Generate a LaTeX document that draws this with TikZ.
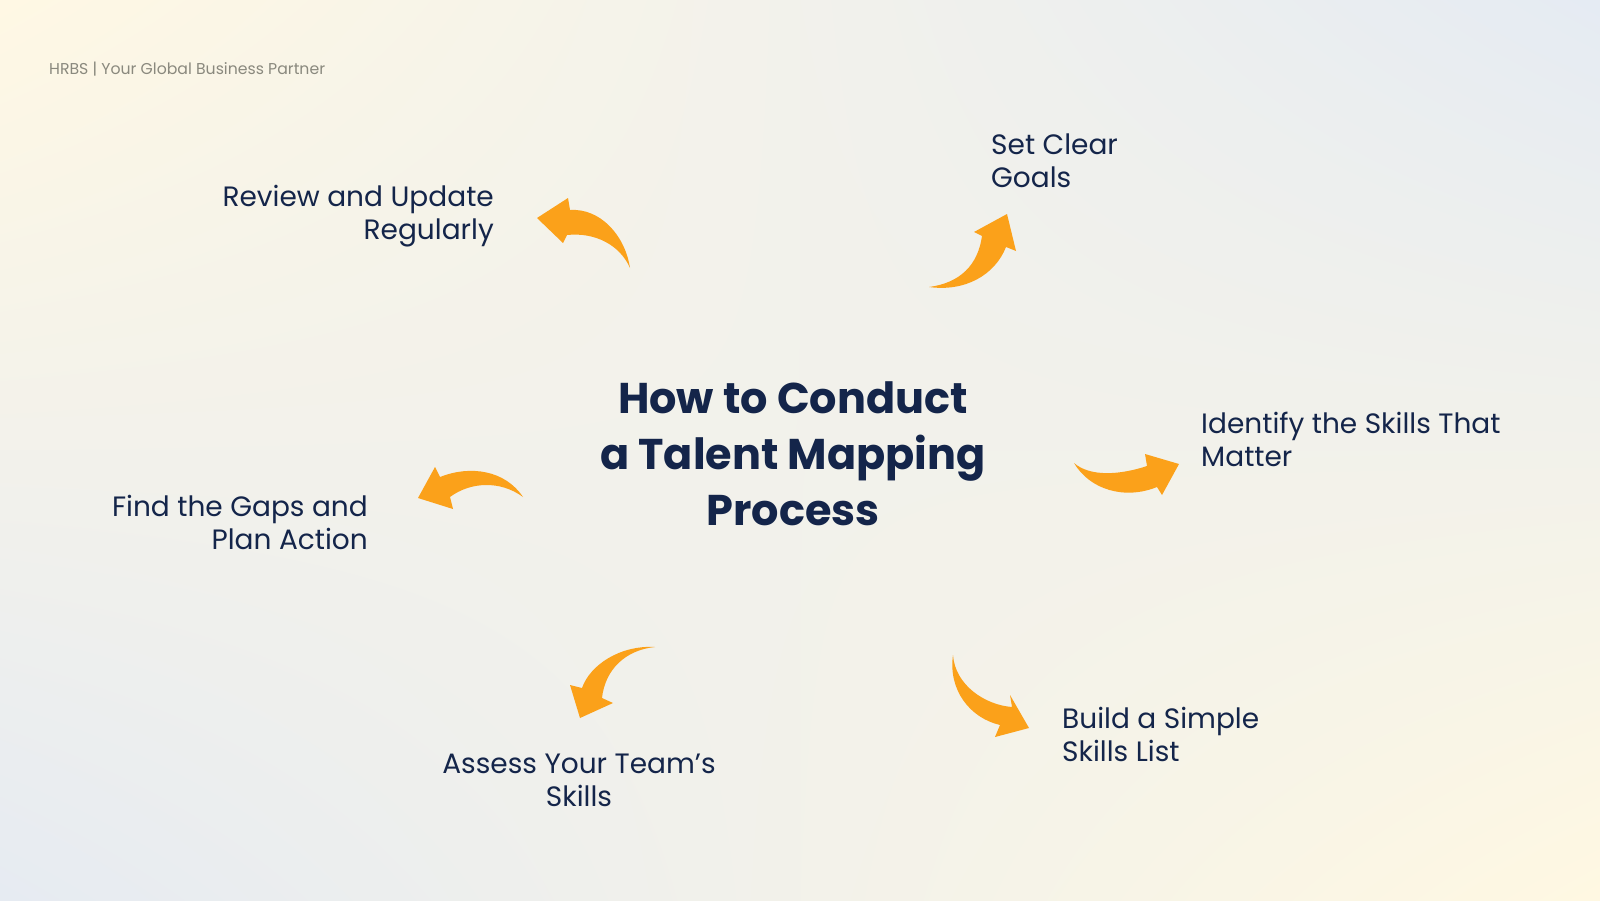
\documentclass[tikz,border=0pt]{standalone}
\usepackage{fontspec}
\usetikzlibrary{shadings}
\setmainfont{Poppins}
\definecolor{bgTL}{HTML}{FFF8E4}
\definecolor{bgTR}{HTML}{E5EBF3}
\definecolor{bgBL}{HTML}{E6EBF2}
\definecolor{bgBR}{HTML}{FFF8E2}
\definecolor{navy}{HTML}{14254A}
\definecolor{greytxt}{HTML}{8A897E}
\definecolor{arroworange}{HTML}{FBA11A}
\tikzset{
  lbl/.style={inner sep=0pt, text=navy, font=\fontsize{28}{33}\selectfont},
  ttl/.style={inner sep=0pt, text=navy, font=\fontsize{43}{56}\selectfont\bfseries, align=center},
  hdr/.style={inner sep=0pt, text=greytxt, font=\fontsize{15.7}{18}\selectfont, anchor=west},
  curvarrow/.style={fill=arroworange, draw=none}
}
\begin{document}
\begin{tikzpicture}[x=1pt,y=-1pt]
\shade[upper left=bgTL, upper right=bgTR, lower left=bgBL, lower right=bgBR] (0,0) rectangle (1600,900);
\useasboundingbox (0,0) rectangle (1600,900);

\node[hdr] (hdr) at (49,69) {HRBS | Your Global Business Partner};

\node[ttl] (title) at (793,454) {How to Conduct\\a Talent Mapping\\Process};

\node[lbl, anchor=west, align=left] (goals) at (991,160.5) {Set Clear\\Goals};
\node[lbl, anchor=east, align=right] (review) at (494,216) {Review and Update\\Regularly};
\node[lbl, anchor=west, align=left] (identify) at (1201,439.5) {Identify the Skills That\\Matter};
\node[lbl, anchor=east, align=right] (gaps) at (368,522.5) {Find the Gaps and\\Plan Action};
\node[lbl, align=center] (assess) at (579,780) {Assess Your Team’s\\Skills};
\node[lbl, anchor=west, align=left] (build) at (1062,734) {Build a Simple\\Skills List};

% Arrow to Set Clear Goals
\fill[curvarrow] (929,287) .. controls (960,283) and (978,265) .. (982,236)
  -- (974,232) -- (1007,214) -- (1016,251) -- (1006,247)
  .. controls (995,275) and (965,292) .. (929,287) -- cycle;
% Arrow to Review and Update
\fill[curvarrow] (630,268) .. controls (625,235) and (600,208) .. (570,210)
  -- (568,198) -- (537,218) -- (563,243) -- (567,235)
  .. controls (595,232) and (620,245) .. (630,268) -- cycle;
% Arrow to Identify
\fill[curvarrow] (1074,463) .. controls (1090,477) and (1120,475) .. (1147,466)
  -- (1145,454) -- (1179,464) -- (1162,495) -- (1157,487)
  .. controls (1125,500) and (1090,490) .. (1074,463) -- cycle;
% Arrow to Find the Gaps
\fill[curvarrow] (523,497) .. controls (505,470) and (470,465) .. (440,477)
  -- (435,467) -- (418,498) -- (453,509) -- (450,497)
  .. controls (470,482) and (500,480) .. (523,497) -- cycle;
% Arrow to Assess
\fill[curvarrow] (655,647) .. controls (620,645) and (590,665) .. (582,688)
  -- (570,685) -- (580,718) -- (613,703) -- (602,698)
  .. controls (605,670) and (625,650) .. (655,647) -- cycle;
% Arrow to Build
\fill[curvarrow] (953,655) .. controls (955,685) and (985,705) .. (1012,707)
  -- (1010,695) -- (1029,728) -- (995,737) -- (1000,725)
  .. controls (970,718) and (948,690) .. (953,655) -- cycle;
\end{tikzpicture}
\end{document}
